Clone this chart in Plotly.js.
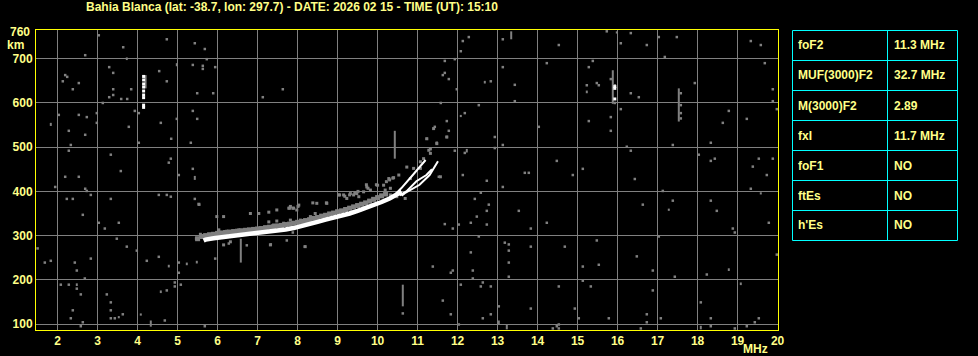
<!DOCTYPE html>
<html><head><meta charset="utf-8">
<script src="https://cdn.plot.ly/plotly-3.0.1.min.js"></script>
<style>html,body{margin:0;padding:0;background:#000;}#chart{width:978px;height:356px;}</style>
</head><body><div id="chart"></div>
<script>
// ---------- DATA ----------
const titleText = "Bahia Blanca (lat: -38.7, lon: 297.7) - DATE: 2026 02 15 - TIME (UT): 15:10";
const xTicks = [2,3,4,5,6,7,8,9,10,11,12,13,14,15,16,17,18,19,20];
const yTicks = [100,200,300,400,500,600,700];
const yTopLabel = "760";

const paramNames  = ["foF2","MUF(3000)F2","M(3000)F2","fxI","foF1","ftEs","h'Es"];
const paramValues = ["11.3 MHz","32.7 MHz","2.89","11.7 MHz","NO","NO","NO"];

// main (strong) echo trace
const traceF = [5.65,5.7,5.9,6.1,6.3,6.5,6.7,6.9,7.1,7.3,7.5,7.7,7.9,8.1,8.3,8.5,8.7,8.9,9.1,9.3,9.5,9.7,9.9,10.1,10.3,10.5,10.6];
const traceH = [289,291,294,296,298,300,302,305,307,309,311,314,317,321,326,331,336,340,345,350,356,362,369,376,384,394,399];
// upper ends of the trace (branches)
const branch1F = [10.45,10.59,10.88,11.09,11.2];
const branch1H = [394,407,437,460,471];
const branch2F = [10.55,10.72,10.97,11.22,11.36];
const branch2H = [391,400,423,437,450];
const branch3F = [10.6,10.68,11.05,11.3,11.51];
const branch3H = [390,396,415,437,468];

// weaker echo just above the main trace
const bandF = [5.5,5.6,5.7,5.8,5.9,6.0,6.1,6.2,6.3,6.4,6.5,6.6,6.7,6.8,6.9,7.0,7.1,7.2,7.3,7.4,7.5,7.6,7.7,7.8,7.9,8.0,8.1,8.2,8.3,8.4,8.5,8.6,8.7,8.8,8.9,9.0,9.1,9.2,9.3,9.4,9.5,9.6,9.7,9.8,9.9,10.0,10.1,10.2];
const bandH = [293,298,300,302,303,305,306,307,308,309,310,311,312,313,314,315,316,318,319,320,322,323,325,326,328,330,332,334,336,339,341,344,346,349,351,354,356,359,362,365,368,371,374,378,382,386,390,394];

// scattered weak echoes near the trace
const echoF = [5.53,5.98,6.15,6.82,7.03,7.28,7.28,7.48,7.48,7.40,7.65,7.78,7.82,7.90,8.03,7.98,8.19,8.07,7.82,8.32,8.44,8.73,8.48,8.61,8.73,8.82,6.15,6.32,7.32,8.19,5.57,5.57,5.65,5.47,5.94,6.03,6.23,6.40,6.53,6.65,6.78,6.90,7.03,
  11.23,11.32,11.32,11.28,11.48,11.73,11.40,11.07,11.15,10.9,10.73,10.53,10.40,10.28,10.15,10.0,9.73,9.82,9.65,9.48,9.40,9.32,9.15,9.03,9.23,9.53,11.57,11.07,10.82,10.32,10.48,10.69,10.19,10.32,
  9.72,9.76,9.97,10.22,10.30,10.38,9.05,9.18,9.30,9.43,9.51,8.38,8.72,8.01,7.80,7.88];
const echoH = [371,343,343,350,350,353,331,358,333,324,328,362,366,362,369,358,331,335,335,343,350,373,373,343,347,350,279,286,279,275,303,296,297,293,301,313,310,311,313,311,314,315,317,
  519,496,486,493,508,523,542,467,474,452,455,437,431,429,414,414,410,403,399,395,392,395,392,392,384,388,433,452,429,392,388,384,403,407,
  415,407,415,422,426,430,392,389,392,396,400,374,374,366,362,362];

// isolated strong pixels
const whiteDotF = [4.15,4.15,4.15,4.15,4.15,4.15,4.15,4.15,4.15,15.93,15.93,15.93];
const whiteDotH = [660,652,643,636,627,618,612,595,590,637,633,609];

// vertical gray streaks
const streakF  = [3.73,4.98,1.83,5.43,2.48,4.58,4.78,5.23,5.48,3.53,4.08,4.33,6.58,10.43,10.63,12.68,12.08,12.23,13.34,13.03,13.23,15.88,17.53,15.23,17.28,19.58,18.78,19.08,18.08,15.98,4.2];
const streakLo = [697,683,548,426,186,170,228,233,237,113,119,94,239,474,140,644,568,488,744,100,88,598,558,622,356,393,220,188,88,757,633];
const streakHi = [703,690,555,435,192,176,234,239,243,118,124,108,293,537,189,650,573,496,762,108,98,674,633,628,361,398,226,194,96,762,663];

// background noise pixels
const noiseF = [3.03,4.73,3.64,5.43,5.68,2.69,5.73,5.38,5.63,5.63,5.94,3.29,3.39,2.19,2.24,2.13,2.53,2.38,4.54,4.73,3.39,3.84,3.39,3.29,3.59,3.74,5.49,5.89,7.13,7.63,3.13,3.93,4.03,5.38,2.03,2.53,2.73,2.98,2.98,4.98,4.58,5.49,3.78,2.28,2.69,4.84,5.33,4.03,2.33,2.28,3.33,4.83,4.78,3.58,5.03,5.38,2.19,2.53,1.94,2.69,2.73,2.83,2.23,2.38,3.33,4.53,4.73,4.83,5.43,5.54,2.63,3.03,3.53,3.18,3.48,3.73,3.98,1.50,1.83,1.68,2.43,2.83,2.48,4.23,4.53,5.03,5.94,5.03,2.68,2.08,2.28,2.48,2.58,4.93,5.08,4.93,3.23,4.73,3.33,2.38,3.33,3.63,3.43,3.33,2.33,2.63,2.58,4.68,5.68,7.33,6.28,6.73,
  12.28,12.13,12.08,13.13,11.68,11.93,11.68,11.63,11.78,13.13,12.83,13.43,11.98,13.43,11.58,12.53,12.18,11.73,11.43,11.78,11.73,11.23,11.48,12.93,13.13,12.93,11.93,12.18,13.68,13.78,12.13,11.53,12.73,13.13,12.58,12.43,12.78,12.73,13.53,12.48,12.33,11.68,12.03,12.73,11.88,12.53,13.83,13.18,13.28,13.28,12.33,13.28,13.83,11.38,11.88,11.83,12.38,13.28,12.38,12.08,12.63,12.58,12.83,11.63,11.83,12.63,12.83,13.03,13.83,12.03,8.18,10.63,7.73,7.88,
  15.73,16.33,16.08,14.53,16.73,17.03,17.48,17.18,19.33,19.58,14.23,15.38,15.28,19.68,15.23,15.48,15.53,15.83,16.33,16.53,17.93,19.88,19.88,19.98,18.78,19.23,18.63,15.28,15.83,15.83,14.03,18.33,17.38,16.23,16.33,18.03,14.48,18.33,18.43,19.53,19.88,19.38,15.13,14.88,16.43,19.73,19.33,17.13,17.38,18.33,18.48,16.63,14.23,19.78,18.88,18.93,17.03,15.48,14.68,16.48,19.98,15.13,15.53,16.88,17.43,18.23,15.13,14.53,15.33,16.88,18.08,14.93,15.03,15.78,16.73,17.08,18.33,19.53,16.73,19.43,14.48,14.53,14.38,14.53,16.58,18.33,18.93,19.23,15.93,15.93,16.08,17.58,17.58,17.58,17.58];
const noiseH = [753,744,726,735,722,708,699,686,684,677,681,681,668,663,659,649,645,631,672,649,631,631,618,613,609,609,622,622,613,631,600,582,577,582,573,573,568,577,555,564,555,564,546,537,528,519,510,510,505,492,483,474,465,446,437,451,433,433,410,406,401,392,383,383,383,392,392,388,383,370,347,329,329,316,293,275,266,271,243,239,239,248,221,243,252,239,248,216,203,189,189,180,167,194,189,185,167,176,149,131,131,122,113,113,113,104,95,108,95,280,282,278,
  749,740,717,744,695,699,668,663,654,681,649,641,631,604,600,595,577,559,546,537,523,519,510,523,505,498,492,487,442,442,437,433,424,410,397,383,370,356,356,343,329,326,325,325,316,298,316,284,280,266,262,239,275,230,221,216,221,207,203,189,194,185,185,153,122,113,122,140,135,99,275,124,289,307,
  762,758,735,731,731,749,749,704,740,731,690,695,681,690,640,645,640,654,622,613,645,631,604,586,582,564,555,559,568,537,546,510,505,501,492,483,469,469,474,474,474,456,451,437,428,437,406,401,379,379,356,370,329,329,316,307,298,289,275,253,257,230,234,221,207,212,198,185,185,176,149,135,113,113,122,113,113,113,104,104,95,99,90,90,90,95,90,95,640,600,586,622,595,577,565];

// ---------- STYLE / LAYOUT ----------
const W = 978, H = 356, L = 36, R = 778, T = 30, B = 330;
const px = x => (x - L) / (R - L);
const py = y => (B - y) / (B - T);
const TXT = '#ffff88', GRID = '#808080', FONT = 'Liberation Sans, Arial, sans-serif';

const sx = [], sy = [];
streakF.forEach((f, i) => { sx.push(f, f, null); sy.push(streakLo[i], streakHi[i], null); });

const traces = [
  {x: noiseF, y: noiseH, mode: 'markers', type: 'scatter', marker: {symbol: 'square', size: 2.5, color: GRID}},
  {x: sx, y: sy, mode: 'lines', type: 'scatter', line: {color: GRID, width: 2}, connectgaps: false},
  {x: echoF, y: echoH, mode: 'markers', type: 'scatter', marker: {symbol: 'square', size: 3, color: GRID}},
  {x: bandF, y: bandH, mode: 'markers', type: 'scatter', marker: {symbol: 'square', size: 5, color: GRID}},
  {x: traceF, y: traceH, mode: 'lines', type: 'scatter', line: {color: '#ffffff', width: 4.5}},
  {x: branch1F, y: branch1H, mode: 'lines', type: 'scatter', line: {color: '#ffffff', width: 2}},
  {x: branch2F, y: branch2H, mode: 'lines', type: 'scatter', line: {color: '#ffffff', width: 2}},
  {x: branch3F, y: branch3H, mode: 'lines', type: 'scatter', line: {color: '#ffffff', width: 2}},
  {x: whiteDotF, y: whiteDotH, mode: 'markers', type: 'scatter', marker: {symbol: 'square', size: 3, color: '#ffffff'}}
];

const shapes = [];
const annotations = [];
const tL = 792.5, tR = 957.5, tC = 887.5, tT = 30.5, rowH = 30;
const nRows = paramNames.length;
shapes.push({type: 'rect', xref: 'paper', yref: 'paper', x0: px(tL), x1: px(tR), y0: py(tT), y1: py(tT + nRows * rowH), line: {color: '#00ffff', width: 1}});
shapes.push({type: 'line', xref: 'paper', yref: 'paper', x0: px(tC), x1: px(tC), y0: py(tT), y1: py(tT + nRows * rowH), line: {color: '#00ffff', width: 1}});
for (let i = 1; i < nRows; i++) {
  shapes.push({type: 'line', xref: 'paper', yref: 'paper', x0: px(tL), x1: px(tR), y0: py(tT + i * rowH), y1: py(tT + i * rowH), line: {color: '#00ffff', width: 1}});
}
const tfont = {family: FONT, size: 12, color: TXT, weight: 'bold'};
paramNames.forEach((n, i) => {
  const yc = py(tT + i * rowH + rowH / 2);
  annotations.push({xref: 'paper', yref: 'paper', x: px(tL + 4), y: yc, text: n, showarrow: false, xanchor: 'left', yanchor: 'middle', font: tfont});
  annotations.push({xref: 'paper', yref: 'paper', x: px(tC + 4), y: yc, text: paramValues[i], showarrow: false, xanchor: 'left', yanchor: 'middle', font: tfont});
});
annotations.push({xref: 'paper', yref: 'paper', x: px(84), y: py(7), text: titleText, showarrow: false, xanchor: 'left', yanchor: 'middle', font: {family: FONT, size: 12, color: TXT, weight: 'bold'}});
annotations.push({xref: 'paper', yref: 'paper', x: px(32), y: py(31.5), text: yTopLabel, showarrow: false, xanchor: 'right', yanchor: 'middle', font: tfont});
annotations.push({xref: 'paper', yref: 'paper', x: px(5), y: py(45), text: 'km', showarrow: false, xanchor: 'left', yanchor: 'middle', font: tfont});
annotations.push({xref: 'paper', yref: 'paper', x: px(770), y: py(349), text: 'MHz', showarrow: false, xanchor: 'right', yanchor: 'middle', font: tfont});

const axisCommon = {
  showgrid: true, gridcolor: GRID, gridwidth: 1, zeroline: false,
  showline: true, mirror: true, linecolor: '#ffff00', linewidth: 1,
  ticks: '', tickfont: tfont, fixedrange: true
};

const layout = {
  width: W, height: H,
  margin: {l: L, r: W - R, t: T, b: H - B, pad: 0},
  paper_bgcolor: '#000000', plot_bgcolor: '#000000',
  showlegend: false,
  xaxis: Object.assign({}, axisCommon, {range: [1.46, 20.01], tickmode: 'array', tickvals: xTicks, ticktext: xTicks.map(String)}),
  yaxis: Object.assign({}, axisCommon, {range: [86.5, 765], tickmode: 'array', tickvals: yTicks, ticktext: yTicks.map(String)}),
  shapes: shapes, annotations: annotations
};

Plotly.newPlot('chart', traces, layout, {staticPlot: true, displayModeBar: false});
</script>
</body></html>
